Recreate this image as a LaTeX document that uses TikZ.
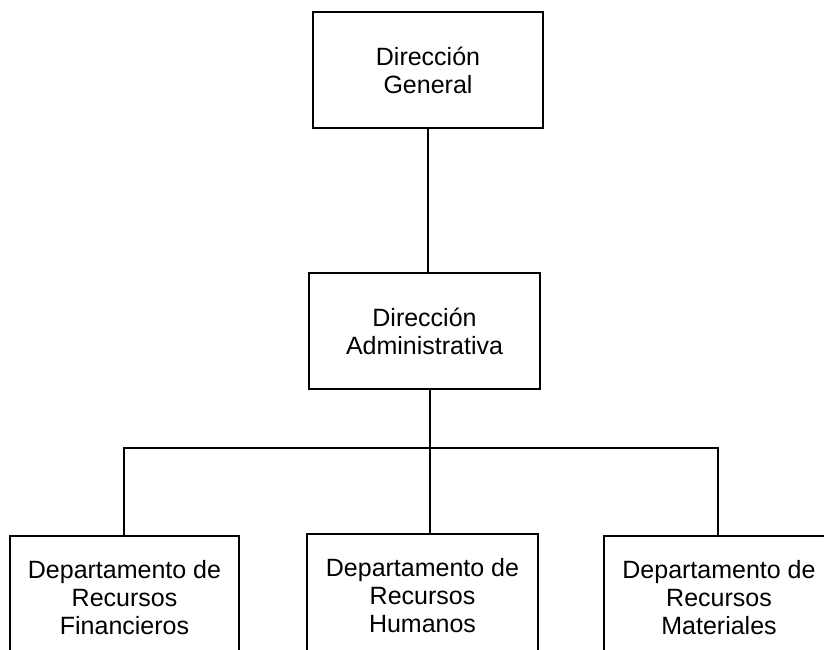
\documentclass[tikz,border=0pt]{standalone}
\usepackage{fontspec}
\setmainfont{Liberation Sans}
\tikzset{
  x=1pt, y=-1pt,
  box/.style={draw=black, line width=1.3pt, align=center, inner sep=0pt,
              font=\fontsize{25}{28}\selectfont, fill=none},
  link/.style={draw=black, line width=1.3pt}
}
\begin{document}
\begin{tikzpicture}
\useasboundingbox (0,0) rectangle (824,650);
\clip (0,0) rectangle (824,650);
\node[box, minimum width=230pt, minimum height=116pt] (dg) at (428,70) {Dirección\\General};
\node[box, minimum width=231pt, minimum height=116pt] (da) at (424.5,331) {Dirección\\Administrativa};
\node[box, minimum width=229pt, minimum height=124pt] (rf) at (124.5,598) {Departamento de\\Recursos\\Financieros};
\node[box, minimum width=231pt, minimum height=124pt] (rh) at (422.5,596) {Departamento de\\Recursos\\Humanos};
\node[box, minimum width=230pt, minimum height=124pt] (rm) at (719,598) {Departamento de\\Recursos\\Materiales};
\coordinate (a1) at (428,0);
\coordinate (a2) at (430,0);
\coordinate (bar) at (0,448);
\coordinate (lf) at (124,0);
\coordinate (rt) at (718,0);
\draw[link] (a1 |- dg.south) -- (a1 |- da.north);
\draw[link] (a2 |- da.south) -- (a2 |- rh.north);
\draw[link] (lf |- rf.north) -- (lf |- bar) -- (rt |- bar) -- (rt |- rm.north);
\end{tikzpicture}
\end{document}
